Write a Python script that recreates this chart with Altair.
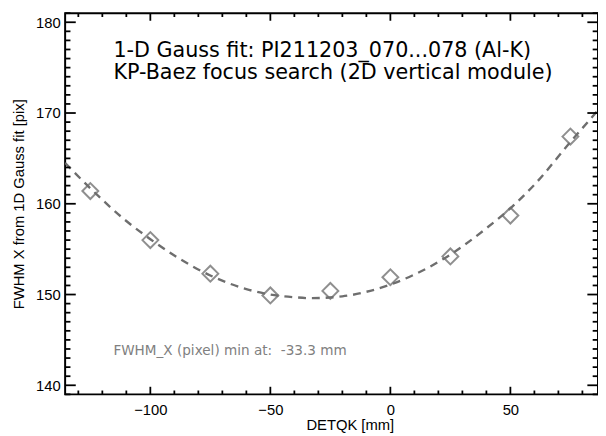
import altair as alt
import pandas as pd

# ---- data ----
pts_x = [-125, -100, -75, -50, -25, 0, 25, 50, 75]
pts_y = [161.4, 156.0, 152.3, 149.9, 150.4, 151.9, 154.2, 158.7, 167.4]

fit_x = [-135.5, -125, -110, -100, -90, -75, -60, -50, -40, -33.3, -20, -10, 0, 10, 25, 40, 50, 60, 75, 86.5]
fit_y = [164.5, 161.7, 158.1, 156.1, 154.3, 152.1, 150.6, 150.0, 149.7, 149.6, 149.8, 150.3, 151.1, 152.2, 154.4, 157.3, 159.5, 162.1, 166.8, 170.3]

x_major = [-100, -50, 0, 50]
x_minor = [-130, -120, -110, -90, -80, -70, -60, -40, -30, -20, -10, 10, 20, 30, 40, 60, 70, 80]
y_major = [140, 150, 160, 170, 180]
y_minor = [v for v in range(139, 182) if v % 10 != 0]

title_lines = ["1-D Gauss fit: PI211203_070...078 (Al-K)", "KP-Baez focus search (2D vertical module)"]
title_x = [-115.4, -115.4]
title_y = [176.19, 173.70]
note_text = ["FWHM_X (pixel) min at:\u00a0 -33.3 mm"]
note_x = [-115.4]
note_y = [143.37]

W, H = 541, 387
XD = [-135.5, 86.5]
YD = [139.0, 181.0]
xs = alt.Scale(domain=XD, nice=False, zero=False)
ys = alt.Scale(domain=YD, nice=False, zero=False)
FONT = "Liberation Sans"


def sym_size(length_px):
    # custom symbol paths span 0..1 unit, which Vega scales to sqrt(size)/2 px
    return (2 * length_px) ** 2


XMAJ, XMIN = sym_size(7.7), sym_size(3.9)
YMAJ, YMIN = sym_size(10.8), sym_size(5.4)

df_pts = pd.DataFrame({"x": pts_x, "y": pts_y})
df_fit = pd.DataFrame({"x": fit_x, "y": fit_y})
df_title = pd.DataFrame({"x": title_x, "y": title_y, "t": title_lines})
df_note = pd.DataFrame({"x": note_x, "y": note_y, "t": note_text})

# tick anchors on the frame, built from the tick arrays
df_xt = pd.DataFrame({
    "v": x_major + x_minor,
    "s": [XMAJ] * len(x_major) + [XMIN] * len(x_minor),
})
df_yt = pd.DataFrame({
    "v": y_major + y_minor,
    "s": [YMAJ] * len(y_major) + [YMIN] * len(y_minor),
})
df_xb = df_xt.assign(y=YD[0])
df_xtop = df_xt.assign(y=YD[1])
df_yl = df_yt.assign(x=XD[0])
df_yr = df_yt.assign(x=XD[1])

points = alt.Chart(df_pts).mark_point(
    shape="diamond", filled=False, size=260, strokeWidth=2, color="#606060"
).encode(
    x=alt.X("x:Q", scale=xs, axis=alt.Axis(
        orient="bottom", values=x_major, format="d", domain=False, grid=False,
        ticks=False, labelPadding=8.5, labelFont=FONT, labelFontSize=15,
        labelColor="black", title="DETQK [mm]", titleFont=FONT, titleFontSize=15,
        titleFontWeight="normal", titleColor="black", titleX=289, titleY=35.5,
        titleBaseline="alphabetic", titleAlign="center")),
    y=alt.Y("y:Q", scale=ys, axis=alt.Axis(
        orient="left", values=y_major, format="d", domain=False, grid=False,
        ticks=False, labelPadding=5, labelFont=FONT, labelFontSize=15,
        labelColor="black", title="FWHM X from 1D Gauss fit [pix]", titleFont=FONT,
        titleFontSize=15, titleFontWeight="normal", titleColor="black",
        titleX=-42.5, titleY=H / 2, titleAngle=270, titleBaseline="alphabetic",
        titleAlign="center")),
)

fit = alt.Chart(df_fit).mark_line(
    strokeDash=[8, 6], strokeWidth=2.4, color="#6e6e6e", clip=True, interpolate="monotone"
).encode(
    x=alt.X("x:Q", scale=xs, axis=None),
    y=alt.Y("y:Q", scale=ys, axis=None),
)


def xtick_layer(df, path):
    return alt.Chart(df).mark_point(
        shape=path, filled=False, strokeWidth=1.8, color="black", opacity=1
    ).encode(
        x=alt.X("v:Q", scale=xs, axis=None),
        y=alt.Y("y:Q", scale=ys, axis=None),
        size=alt.Size("s:Q", scale=None, legend=None),
    )


def ytick_layer(df, path):
    return alt.Chart(df).mark_point(
        shape=path, filled=False, strokeWidth=1.8, color="black", opacity=1
    ).encode(
        x=alt.X("x:Q", scale=xs, axis=None),
        y=alt.Y("v:Q", scale=ys, axis=None),
        size=alt.Size("s:Q", scale=None, legend=None),
    )


tick_layers = [
    xtick_layer(df_xb, "M0,0L0,-1"),
    xtick_layer(df_xtop, "M0,0L0,1"),
    ytick_layer(df_yl, "M0,0L1,0"),
    ytick_layer(df_yr, "M0,0L-1,0"),
]

titles = alt.Chart(df_title).mark_text(
    align="left", baseline="alphabetic", font="DejaVu Sans", fontSize=21, color="black"
).encode(
    x=alt.X("x:Q", scale=xs, axis=None),
    y=alt.Y("y:Q", scale=ys, axis=None),
    text="t:N",
)

note = alt.Chart(df_note).mark_text(
    align="left", baseline="alphabetic", font="DejaVu Sans", fontSize=13.8, color="#808080"
).encode(
    x=alt.X("x:Q", scale=xs, axis=None),
    y=alt.Y("y:Q", scale=ys, axis=None),
    text="t:N",
)

chart = alt.layer(points, fit, *tick_layers, titles, note).resolve_axis(
    x="independent", y="independent"
).properties(
    width=W, height=H,
    autosize=alt.AutoSizeParams(type="none"),
    padding={"left": 58, "top": 2, "right": 0, "bottom": 38},
    background="white",
).configure_view(stroke="black", strokeWidth=2)

chart.save("out.html", embed_options={"renderer": "svg", "actions": False})
